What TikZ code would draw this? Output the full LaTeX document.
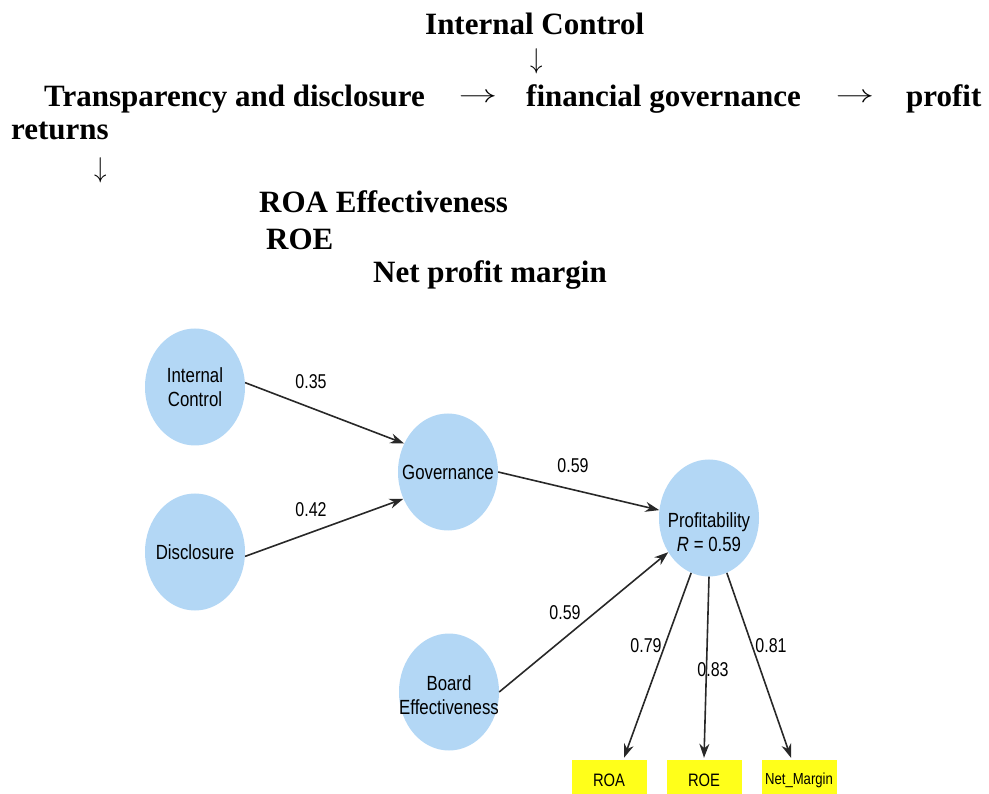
\documentclass[tikz,border=0pt]{standalone}
\usepackage{fontspec}
\usepackage{graphicx}
\setmainfont{Liberation Serif}
\newfontfamily\sansdiag{Liberation Sans}
\usetikzlibrary{shapes.geometric, arrows.meta}

\definecolor{azulclaro}{RGB}{179,215,245}
\definecolor{amarillo}{RGB}{255,255,26}
\definecolor{gris}{RGB}{40,40,40}

\tikzset{
  titulo/.style = {font=\fontsize{31}{36}\selectfont\bfseries, inner sep=0pt, anchor=base west},
  flecha/.style = {font=\fontsize{31}{36}\selectfont, inner sep=0pt},
  latente/.style = {ellipse, fill=azulclaro, minimum width=100pt, minimum height=117pt, inner sep=0pt},
  rotulo/.style = {font=\sansdiag\fontsize{20.5}{23.5}\selectfont, align=center, inner sep=0pt, xscale=0.82, transform shape},
  medida/.style = {rectangle, fill=amarillo, minimum width=75pt, minimum height=40pt, inner sep=0pt, font=\sansdiag\fontsize{18}{20}\selectfont},
  peso/.style = {font=\sansdiag\fontsize{20}{22}\selectfont, inner sep=0pt, xscale=0.8, transform shape},
  enlace/.style = {draw=gris, line width=1.6pt, -{Stealth[length=14pt, width=10pt]}}
}

\begin{document}
\begin{tikzpicture}[x=1pt, y=-1pt]
\useasboundingbox (0,0) rectangle (989,794);

% El texto de arriba va con nodos sueltos
\node[titulo] (t-ic) at (425,35) {Internal Control};
\node[flecha] (fl1) at (537,61) {\scalebox{1}[1.15]{$\downarrow$}};
\node[titulo] (t-tr) at (44,107) {Transparency and disclosure};
\node[flecha] (fl2) at (478,98) {\scalebox{1.55}[1]{$\rightarrow$}};
\node[titulo] (t-fg) at (526,107) {financial governance};
\node[flecha] (fl3) at (855,98) {\scalebox{1.55}[1]{$\rightarrow$}};
\node[titulo] (t-pr) at (906,107) {profit};
\node[titulo] (t-re) at (11,140) {returns};
\node[flecha] (fl4) at (101,170) {\scalebox{1}[1.15]{$\downarrow$}};
\node[titulo] (t-roa) at (259,213) {ROA Effectiveness};
\node[titulo] (t-roe) at (266,250) {ROE};
\node[titulo] (t-npm) at (373,283) {Net profit margin};

% Variables latentes (elipses) y su texto encima
\node[latente] (ic) at (195,387) {};
\node[latente] (disc) at (195,552) {};
\node[latente] (gov) at (448,472) {};
\node[latente] (prof) at (709,518) {};
\node[latente] (board) at (449,692) {};
\node[rotulo] (ic-t) at (ic) {Internal\\Control};
\node[rotulo] (disc-t) at (disc) {Disclosure};
\node[rotulo] (gov-t) at (gov) {Governance};
\node[rotulo] (prof-t) at ([yshift=-14pt]prof.center) {Profitability\\\textit{R} = 0.59};
\node[rotulo] (board-t) at ([yshift=-3pt]board.center) {Board\\Effectiveness};

% Indicadores (cajas amarillas)
\node[medida] (roa) at (609,780) {\scalebox{0.82}[1]{ROA}};
\node[medida] (roe) at (704,780) {\scalebox{0.82}[1]{ROE}};
\node[medida, font=\sansdiag\fontsize{16}{18}\selectfont] (net) at (799,780) {\scalebox{0.82}[1]{Net\_Margin}};

% Flechas entre nodos, indicando de que parte salen
\draw[enlace] (ic.5) -- (gov.147);
\draw[enlace] (disc.-5) -- (gov.211);
\draw[enlace] (gov.east) -- (prof.171);
\draw[enlace] (board.east) -- (prof.220);
\draw[enlace] (prof.252) -- ([xshift=15pt, yshift=2pt]roa.north);
\draw[enlace] (prof.south) -- ([yshift=2pt]roe.north);
\draw[enlace] (prof.288) -- ([xshift=-8pt, yshift=2pt]net.north);

% Pesos de cada flecha
\node[peso] (w1) at (311,382) {0.35};
\node[peso] (w2) at (311,510) {0.42};
\node[peso] (w3) at (573,466) {0.59};
\node[peso] (w4) at (565,613) {0.59};
\node[peso] (w5) at (646,646) {0.79};
\node[peso] (w6) at (713,670) {0.83};
\node[peso] (w7) at (771,646) {0.81};
\end{tikzpicture}
\end{document}
